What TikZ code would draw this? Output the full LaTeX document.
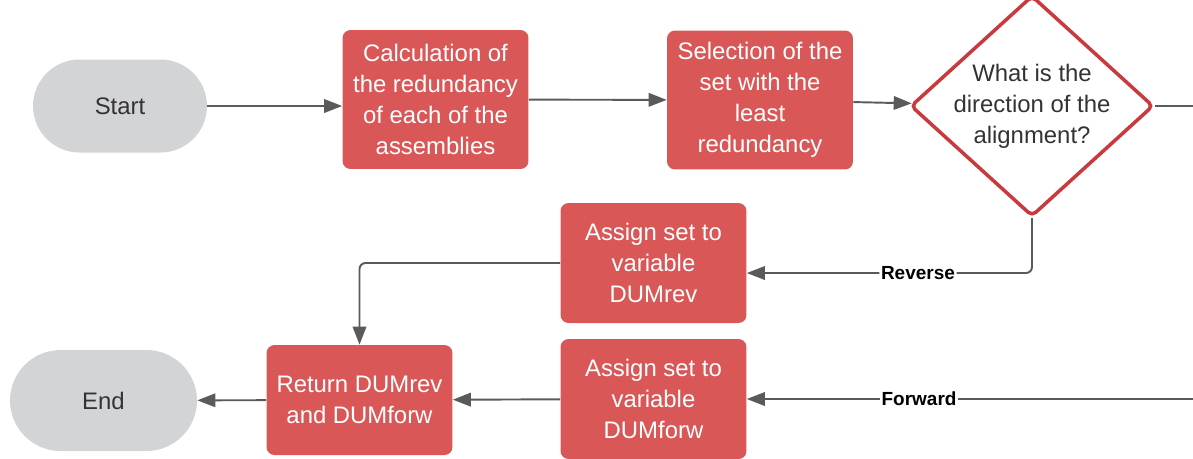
\documentclass[tikz,border=0pt]{standalone}
\usepackage{fontspec}
\setmainfont{Liberation Sans}
\usetikzlibrary{arrows.meta,shapes.geometric,shapes.misc}

\definecolor{boxred}{HTML}{D95757}
\definecolor{edgered}{HTML}{C93A3F}
\definecolor{termgray}{HTML}{D3D4D6}
\definecolor{linegray}{HTML}{5A5A5A}

\begin{document}
\begin{tikzpicture}[x=0.02cm, y=-0.02cm,
  every node/.style={font=\fontsize{13.6}{17.6}\selectfont},
  process/.style={rectangle, rounded corners=0.16cm, fill=boxred, text=white, align=center,
    minimum width=3.72cm, minimum height=2.78cm, inner sep=0pt},
  terminal/.style={rounded rectangle, fill=termgray, text=black!80, inner sep=0pt},
  decision/.style={diamond, draw=edgered, line width=2pt, rounded corners=0.1cm, fill=white,
    minimum width=4.86cm, minimum height=4.42cm, inner sep=0pt},
  flow/.style={draw=linegray, line width=1.1pt, -{Triangle[length=0.36cm, width=0.27cm]}},
  tag/.style={fill=white, inner sep=1pt, text=black, font=\fontsize{10.8}{13}\selectfont\bfseries}
]
  \useasboundingbox (0,0) rectangle (1193,458);

  % top row
  \node[terminal, minimum width=3.48cm, minimum height=1.86cm] (start) at (120,106) {Start};
  \node[process] (calc) at (435.5,99.5) {Calculation of\\the redundancy\\of each of the\\assemblies};
  \node[process] (sel) at (760,100) {Selection of the\\set with the\\least\\redundancy};
  \node[decision, label={[align=center, text=black!80]center:What is the\\direction of the\\alignment?}]
    (dir) at (1032,106) {};

  % bottom rows
  \node[process, minimum height=2.4cm] (rev) at (653.5,263) {Assign set to\\variable\\DUMrev};
  \node[process, minimum height=2.4cm] (fwd) at (653.5,399) {Assign set to\\variable\\DUMforw};
  \node[process, minimum height=2.2cm] (ret) at (359.5,400) {Return DUMrev\\and DUMforw};
  \node[terminal, minimum width=3.74cm, minimum height=2.02cm] (end) at (103.5,400.5) {End};

  % lines leaving the frame
  \coordinate (outR) at (1193,106);
  \coordinate (inF) at (1193,399);

  \draw[flow] (start.east) -- (start.east -| calc.west);
  \draw[flow] (calc) -- (sel);
  \draw[flow] (sel) -- (dir);
  \draw[draw=linegray, line width=1.1pt] (dir.east) -- (outR);
  \draw[flow, rounded corners=0.12cm] (dir.south) |- node[tag, pos=0.7] {Reverse} ([yshift=-0.2cm]rev.east);
  \draw[flow] (inF) -- node[tag, pos=0.614] {Forward} (fwd.east);
  \draw[flow, rounded corners=0.12cm] (rev.west) -| (ret.north);
  \draw[flow] (fwd) -- (ret);
  \draw[flow] (ret) -- (end);
\end{tikzpicture}
\end{document}
